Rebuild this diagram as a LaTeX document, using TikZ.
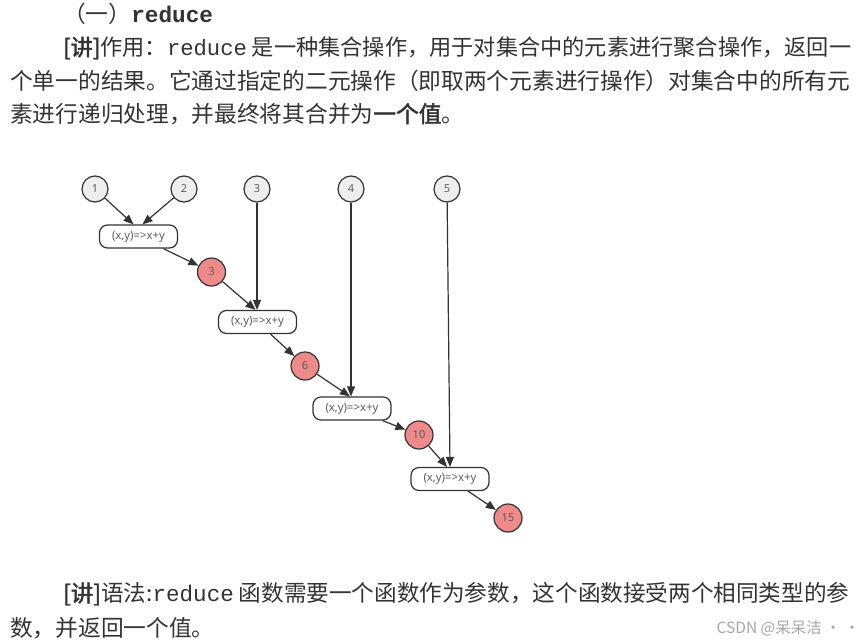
\documentclass[tikz,border=0pt]{standalone}
\usepackage{fontspec}
\setmainfont{Noto Sans CJK SC}[AutoFakeBold=2]
\setmonofont{Liberation Mono}
\newfontfamily\labelfont{Open Sans}
\usepackage{xcolor}
\usepackage{tikz}
\usetikzlibrary{arrows.meta}

\definecolor{numgray}{HTML}{EEEEEE}
\definecolor{resred}{HTML}{EE8A8A}
\definecolor{edgegray}{HTML}{333333}
\definecolor{labelgray}{HTML}{555555}

\begin{document}
\begin{tikzpicture}[
        x=1pt, y=-1pt,
        every node/.style={inner sep=0pt},
        txtline/.style={anchor=west, text=black!80, font=\fontsize{22.7}{22.7}\selectfont},
        num/.style={circle, draw=edgegray, fill=numgray, line width=1.2pt, minimum size=26pt, text=labelgray, font=\labelfont\fontsize{11}{11}\selectfont},
        result/.style={num, fill=resred, minimum size=28pt},
        fnbox/.style={rectangle, rounded corners=8pt, draw=edgegray, fill=white, line width=1.2pt, minimum width=78pt, minimum height=23pt, text=labelgray, font=\labelfont\fontsize{11.5}{11.5}\selectfont},
        flow/.style={draw=edgegray, line width=1.2pt, -{Triangle[length=10pt, width=8pt]}},
    ]
        \useasboundingbox (0,0) rectangle (866,643);

        % Texts
        \node[txtline] (title) at (63,14) {（一）\textbf{\ttfamily reduce}};
        \node[txtline, font=\fontsize{22.2}{22.2}\selectfont] (para1) at (63,48) {\textbf{[讲]}作用：\texttt{reduce} 是一种集合操作，用于对集合中的元素进行聚合操作，返回一};
        \node[txtline] (para2) at (10,81) {个单一的结果。它通过指定的二元操作（即取两个元素进行操作）对集合中的所有元};
        \node[txtline] (para3) at (10,114) {素进行递归处理，并最终将其合并为\textbf{一个值}。};
        \node[txtline, font=\fontsize{22.6}{22.6}\selectfont] (syntax1) at (63,594) {\textbf{[讲]}语法:\texttt{reduce} 函数需要一个函数作为参数，这个函数接受两个相同类型的参};
        \node[txtline] (syntax2) at (10,628) {数，并返回一个值。};
        \node[anchor=east, text=black!35, font=\fontsize{15.5}{15.5}\selectfont] (mark) at (860,628) {CSDN @呆呆洁 · ·};

        % Nodes
        \node[num] (n1) at (95,189) {1};
        \node[num] (n2) at (184,189) {2};
        \node[num] (n3) at (257,189) {3};
        \node[num] (n4) at (351,189) {4};
        \node[num] (n5) at (447,189) {5};
        \node[fnbox] (f1) at (138.5,236.5) {(x,y)=>x+y};
        \node[result] (r3) at (211.5,272) {3};
        \node[fnbox] (f2) at (257.5,322) {(x,y)=>x+y};
        \node[result] (r6) at (305,366) {6};
        \node[fnbox] (f3) at (352,408.5) {(x,y)=>x+y};
        \node[result] (r10) at (419,435) {10};
        \node[fnbox] (f4) at (450,479) {(x,y)=>x+y};
        \node[result] (r15) at (508,518) {15};

        % Arrows
        \draw[flow] (n1) -- ([xshift=-5pt]f1.north);
        \draw[flow] (n2) -- ([xshift=4pt]f1.north);
        \draw[flow] (f1) -- (r3);
        \draw[flow] (r3) -- ([xshift=-2pt]f2.north);
        \draw[flow] (n3) -- (n3 |- f2.north);
        \draw[flow] (f2) -- (r6);
        \draw[flow] (r6) -- ([xshift=-2pt]f3.north);
        \draw[flow] (n4) -- (n4 |- f3.north);
        \draw[flow] (f3) -- (r10);
        \draw[flow] (r10) -- ([xshift=-3pt]f4.north);
        \draw[flow] (n5) -- (f4.north);
        \draw[flow] (f4) -- (r15);

    \end{tikzpicture}
\end{document}
